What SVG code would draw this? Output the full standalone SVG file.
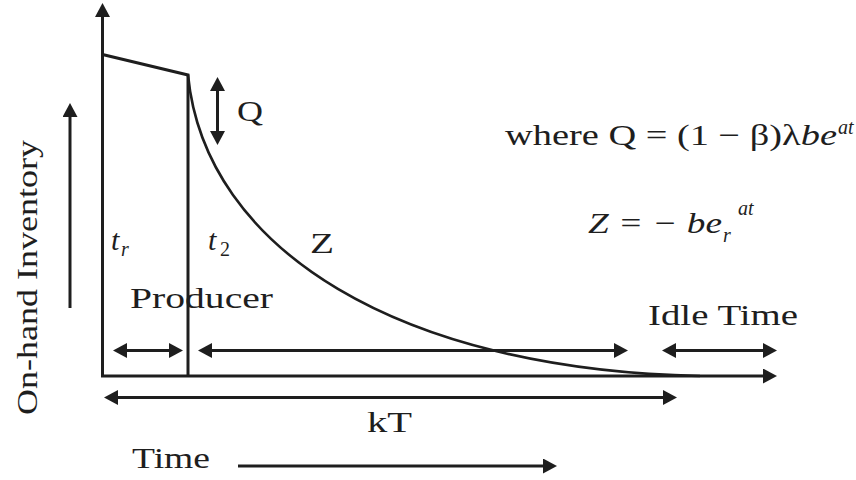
<svg xmlns="http://www.w3.org/2000/svg" width="856" height="480" viewBox="0 0 856 480">
<style>
.ln{stroke:#1e1e1e;stroke-width:3;fill:none}
.cv{stroke:#1e1e1e;stroke-width:2.6;fill:none}
.ar{marker-end:url(#ah)}
.da{marker-start:url(#ah);marker-end:url(#ah)}
.tx{fill:#1e1e1e;font-size:30px}
.it{font-style:italic}
.sm{font-size:20px}
</style>
<defs>
<marker id="ah" viewBox="0 0 14 15" refX="4" refY="7.5" markerWidth="14" markerHeight="15" markerUnits="userSpaceOnUse" orient="auto-start-reverse">
<path d="M0,0 L14,7.5 L0,15 z" fill="#1e1e1e"/>
</marker>
</defs>
<rect width="856" height="480" fill="#fff"/>
<g id="connectors">
<line class="ln ar" x1="102.5" y1="377" x2="102.5" y2="13"/>
<line class="ln ar" x1="101" y1="376" x2="767" y2="376"/>
<path class="ln" d="M102.5,54.5 L188,75 L188,377"/>
<path class="cv" d="M188,75 C205,250 400,370 700,376"/>
<line class="ln da" x1="217.5" y1="87" x2="217.5" y2="135"/>
<line class="ln da" x1="123" y1="350.5" x2="173" y2="350.5"/>
<line class="ln da" x1="208" y1="350.5" x2="618" y2="350.5"/>
<line class="ln da" x1="672" y1="350.5" x2="767" y2="350.5"/>
<line class="ln da" x1="114" y1="397.5" x2="667" y2="397.5"/>
<line class="ln ar" x1="238" y1="466" x2="547" y2="466"/>
<line class="ln ar" x1="70" y1="308" x2="70" y2="113"/>
</g>
<g class="tx" font-family="Liberation Serif, Times New Roman, Times, serif">
<g id="label-q"><text x="237" y="121" textLength="26" lengthAdjust="spacingAndGlyphs">Q</text></g>
<g id="formula-q">
<text x="505" y="145" textLength="332" lengthAdjust="spacingAndGlyphs">where Q = (1 − β)λ<tspan class="it">be</tspan></text>
<text class="it sm" x="838" y="134">at</text>
</g>
<g id="formula-z">
<text class="it" x="588" y="233" textLength="134" lengthAdjust="spacingAndGlyphs">Z = − be</text>
<text class="it sm" x="723" y="242">r</text>
<text class="it sm" x="738" y="215">at</text>
</g>
<g id="label-tr"><text class="it" x="111" y="250">t</text><text class="it sm" x="121" y="256">r</text></g>
<g id="label-t2"><text class="it" x="208" y="250">t</text><text class="sm" x="220" y="256">2</text></g>
<g id="label-z"><text x="310" y="253" textLength="24" lengthAdjust="spacingAndGlyphs">Z</text></g>
<g id="label-producer"><text x="130" y="308" textLength="143" lengthAdjust="spacingAndGlyphs">Producer</text></g>
<g id="label-idle"><text x="648" y="325" textLength="150" lengthAdjust="spacingAndGlyphs">Idle Time</text></g>
<g id="label-kt"><text x="367" y="432" textLength="45" lengthAdjust="spacingAndGlyphs">kT</text></g>
<g id="label-time"><text x="132" y="468" textLength="78" lengthAdjust="spacingAndGlyphs">Time</text></g>
<g id="label-inventory"><text transform="translate(37,415) rotate(-90)" x="0" y="0" textLength="275" lengthAdjust="spacingAndGlyphs">On-hand Inventory</text></g>
</g>
</svg>
